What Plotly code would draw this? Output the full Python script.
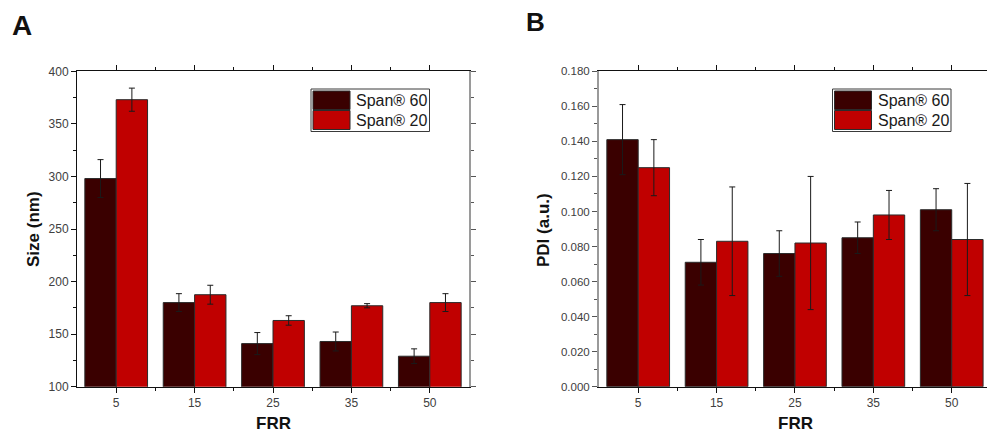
import plotly.graph_objects as go

# ---- data ----
frr = ["5", "15", "25", "35", "50"]
series_names = ["Span® 60", "Span® 20"]

size_span60 = [298, 180, 141, 143, 129]
size_span60_err = [18, 8.5, 10.5, 9, 7]
size_span20 = [373, 187.5, 163, 177, 180]
size_span20_err = [11, 9, 4.5, 2, 8.5]

pdi_span60 = [0.141, 0.071, 0.076, 0.085, 0.101]
pdi_span60_err = [0.020, 0.013, 0.013, 0.009, 0.012]
pdi_span20 = [0.125, 0.083, 0.082, 0.098, 0.084]
pdi_span20_err = [0.016, 0.031, 0.038, 0.014, 0.032]

size_ticks = [100, 150, 200, 250, 300, 350, 400]
pdi_ticks = [0.000, 0.020, 0.040, 0.060, 0.080, 0.100, 0.120, 0.140, 0.160, 0.180]

# ---- style ----
W, H = 987, 434
DARK = "#3a0000"
RED = "#c00000"
OUTLINE = "#2b2b2b"
FONT = "Liberation Sans, Arial, sans-serif"
TICKFONT_COLOR = "#404040"

idx = list(range(len(frr)))


def px_x(x):
    return x / W


def px_y(y):
    return 1 - y / H


fig = go.Figure()

panels = [
    ("x", "y", [size_span60, size_span20], [size_span60_err, size_span20_err]),
    ("x2", "y2", [pdi_span60, pdi_span20], [pdi_span60_err, pdi_span20_err]),
]
colors = [DARK, RED]
for xa, ya, vals, errs in panels:
    for k in range(2):
        fig.add_trace(go.Bar(
            x=idx, y=vals[k], name=series_names[k], xaxis=xa, yaxis=ya,
            offsetgroup=str(k),
            marker=dict(color=colors[k], line=dict(color=OUTLINE, width=1)),
            error_y=dict(type="data", array=errs[k], color="#1a1a1a",
                         thickness=1, width=3),
            showlegend=False,
        ))

y_dom = [px_y(386.7), px_y(71.3)]

common_x = dict(
    tickmode="array", tickvals=idx, ticktext=frr,
    ticks="outside", ticklen=5, tickwidth=1, tickcolor="#111",
    showline=True, linecolor="#111", linewidth=1, mirror="ticks",
    showgrid=False, zeroline=False, automargin=False,
    tickfont=dict(family=FONT, size=12, color=TICKFONT_COLOR),
    minor=dict(tickmode="array", tickvals=[0.5, 1.5, 2.5, 3.5],
               ticks="outside", ticklen=3, tickcolor="#111"),
    fixedrange=True,
)

fig.update_layout(
    width=W, height=H, autosize=False,
    margin=dict(l=0, r=0, t=0, b=0, pad=0, autoexpand=False),
    paper_bgcolor="white", plot_bgcolor="white",
    barmode="group", bargap=0.2, bargroupgap=0,
    font=dict(family=FONT),
    xaxis=dict(common_x, domain=[px_x(77), px_x(469)], range=[-0.5, 4.5],
               anchor="y"),
    yaxis=dict(
        domain=y_dom, range=[100, 400], anchor="x", automargin=False,
        tickmode="array", tickvals=size_ticks,
        ticks="outside", ticklen=5, tickcolor="#111",
        showline=True, linecolor="#111", linewidth=1,
        showgrid=False, zeroline=False,
        tickfont=dict(family=FONT, size=12, color=TICKFONT_COLOR),
        minor=dict(dtick=25, tick0=0, ticks="outside", ticklen=3,
                   tickcolor="#111"),
    ),
    # right-hand frame of panel A
    yaxis3=dict(
        overlaying="y", side="right", anchor="x", matches="y",
        range=[100, 400], tickmode="array", tickvals=size_ticks,
        ticks="outside", ticklen=5, tickcolor="#555", automargin=False,
        showline=True, linecolor="#9a9a9a", linewidth=2,
        showticklabels=False, showgrid=False, zeroline=False,
        minor=dict(dtick=25, tick0=0, ticks="outside", ticklen=3,
                   tickcolor="#555"),
    ),
    xaxis2=dict(common_x, domain=[px_x(599), 1.0], range=[-0.5, 4.45],
                anchor="y2"),
    yaxis2=dict(
        domain=y_dom, range=[0, 0.18], anchor="x2", automargin=False,
        tickmode="array", tickvals=pdi_ticks, tickformat=".3f",
        ticks="outside", ticklen=5, tickcolor="#555",
        showline=True, linecolor="#9a9a9a", linewidth=2,
        showgrid=False, zeroline=False,
        tickfont=dict(family=FONT, size=11.5, color=TICKFONT_COLOR),
        minor=dict(dtick=0.01, tick0=0, ticks="outside", ticklen=3,
                   tickcolor="#555"),
    ),
)

# a dummy trace so the right-hand frame axis of panel A is drawn
fig.add_trace(go.Scatter(x=[None], y=[None], xaxis="x", yaxis="y3",
                         showlegend=False, hoverinfo="skip"))

annotations = []
shapes = []


# axis titles and panel letters
def text(x, y, s, size, angle=0, bold=True):
    annotations.append(dict(
        x=px_x(x), y=px_y(y), xref="paper", yref="paper",
        text=f"<b>{s}</b>" if bold else s, showarrow=False,
        xanchor="center", yanchor="middle", textangle=angle,
        font=dict(family=FONT, size=size, color="#111"),
    ))


text(33, 229, "Size (nm)", 17, angle=-90)
text(273, 423.5, "FRR", 17)
text(543, 230, "PDI (a.u.)", 17, angle=-90)
text(795, 423.5, "FRR", 17)
text(21.5, 25, "A", 28)
text(535, 22.5, "B", 26)

# boxed legends
for bx in (311, 832.5):
    shapes.append(dict(type="rect", xref="paper", yref="paper",
                       x0=px_x(bx), x1=px_x(bx + 118.5),
                       y0=px_y(131.5), y1=px_y(89),
                       line=dict(color="#3a3a3a", width=1),
                       fillcolor="white", layer="above"))
    for k, (y0, y1) in enumerate([(91, 109.5), (110.5, 129.5)]):
        shapes.append(dict(type="rect", xref="paper", yref="paper",
                           x0=px_x(bx + 2), x1=px_x(bx + 39),
                           y0=px_y(y1), y1=px_y(y0),
                           line=dict(color=OUTLINE, width=1),
                           fillcolor=colors[k], layer="above"))
        annotations.append(dict(
            x=px_x(bx + 43), y=px_y((y0 + y1) / 2), xref="paper", yref="paper",
            text=series_names[k], showarrow=False,
            xanchor="left", yanchor="middle",
            font=dict(family=FONT, size=16, color="#1a1a1a"),
        ))

fig.update_layout(annotations=annotations, shapes=shapes)

fig.write_html("out.html", config={"displayModeBar": False})
